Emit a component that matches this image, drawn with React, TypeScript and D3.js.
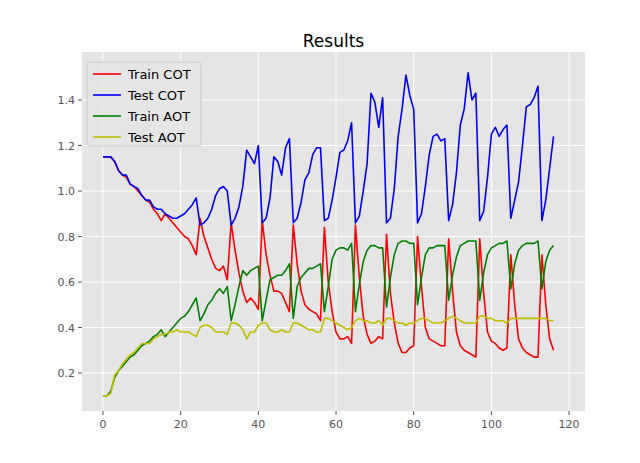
import * as d3 from 'd3';

// values per epoch (0..116)
const trainCot = [
  1.15, 1.15, 1.15, 1.13, 1.09, 1.07, 1.06, 1.03, 1.02, 1.0, 0.98, 0.96, 0.95, 0.92, 0.9, 0.87, 0.9, 0.88, 0.86, 0.84, 0.82, 0.8, 0.79, 0.76, 0.72,
  0.88, 0.8, 0.75, 0.7, 0.66, 0.65, 0.67, 0.61,
  0.86, 0.74, 0.64, 0.56, 0.51, 0.53, 0.51, 0.48,
  0.87, 0.72, 0.63, 0.56, 0.56, 0.55, 0.51, 0.47,
  0.85, 0.68, 0.56, 0.5, 0.48, 0.47, 0.46, 0.43,
  0.84, 0.6, 0.47, 0.38, 0.35, 0.35, 0.36, 0.33,
  0.85, 0.62, 0.45, 0.37, 0.33, 0.34, 0.36, 0.35,
  0.81, 0.55, 0.42, 0.33, 0.29, 0.29, 0.31, 0.32,
  0.8, 0.58, 0.4, 0.35, 0.34, 0.33, 0.32, 0.32,
  0.79, 0.56, 0.38, 0.32, 0.3, 0.29, 0.28, 0.27,
  0.79, 0.55, 0.38, 0.34, 0.33, 0.31, 0.3, 0.31,
  0.72, 0.5, 0.35, 0.31, 0.29, 0.28, 0.27, 0.27,
  0.72, 0.5, 0.35, 0.3,
];
const testCot = [
  1.15, 1.15, 1.15, 1.13, 1.09, 1.07, 1.07, 1.03, 1.02, 1.01, 0.98, 0.96, 0.96, 0.93, 0.92, 0.92, 0.9, 0.89, 0.88, 0.88, 0.89, 0.9, 0.92, 0.94, 0.97,
  0.85, 0.86, 0.88, 0.92, 0.98, 1.01, 1.02, 1.0,
  0.85, 0.88, 0.93, 1.02, 1.18, 1.15, 1.12, 1.2,
  0.86, 0.88, 0.97, 1.15, 1.13, 1.07, 1.19, 1.23,
  0.86, 0.88, 0.95, 1.05, 1.08, 1.16, 1.19, 1.19,
  0.87, 0.88, 0.96, 1.06, 1.17, 1.18, 1.22, 1.3,
  0.86, 0.89, 1.0, 1.12, 1.43, 1.39, 1.28, 1.41,
  0.86, 0.88, 1.01, 1.24, 1.36, 1.51, 1.42, 1.36,
  0.86, 0.9, 1.02, 1.16, 1.24, 1.25, 1.22, 1.23,
  0.87, 0.94, 1.08, 1.29, 1.36, 1.52, 1.4, 1.43,
  0.87, 0.91, 1.06, 1.25, 1.28, 1.24, 1.27, 1.29,
  0.88, 0.96, 1.04, 1.2, 1.37, 1.38, 1.41, 1.46,
  0.87, 0.96, 1.1, 1.24,
];
const trainAot = [
  0.1, 0.1, 0.12, 0.18, 0.21, 0.23, 0.25, 0.27, 0.28, 0.3, 0.32, 0.33, 0.34, 0.36, 0.37, 0.39, 0.36, 0.38, 0.4, 0.42, 0.44, 0.45, 0.47, 0.5, 0.53,
  0.43, 0.46, 0.5, 0.52, 0.55, 0.57, 0.55, 0.58,
  0.43, 0.5, 0.58, 0.65, 0.63, 0.65, 0.66, 0.67,
  0.43, 0.52, 0.61, 0.62, 0.63, 0.63, 0.65, 0.68,
  0.44, 0.58, 0.62, 0.64, 0.66, 0.66, 0.67, 0.68,
  0.47, 0.58, 0.7, 0.74, 0.75, 0.75, 0.74, 0.77,
  0.47, 0.59, 0.69, 0.74, 0.76, 0.76, 0.75, 0.75,
  0.49, 0.62, 0.72, 0.77, 0.78, 0.78, 0.77, 0.77,
  0.5, 0.62, 0.72, 0.75, 0.75, 0.76, 0.76, 0.76,
  0.52, 0.63, 0.71, 0.76, 0.77, 0.78, 0.78, 0.78,
  0.52, 0.64, 0.72, 0.75, 0.76, 0.77, 0.77, 0.78,
  0.57, 0.68, 0.74, 0.76, 0.77, 0.77, 0.77, 0.78,
  0.57, 0.69, 0.74, 0.76,
];
const testAot = [
  0.1, 0.1, 0.11, 0.19, 0.21, 0.24, 0.26, 0.28, 0.29, 0.31, 0.33, 0.33, 0.33, 0.35, 0.36, 0.37, 0.37, 0.38, 0.38, 0.39, 0.38, 0.38, 0.38, 0.37, 0.36,
  0.4, 0.41, 0.41, 0.4, 0.38, 0.38, 0.38, 0.37,
  0.42, 0.42, 0.41, 0.39, 0.35, 0.38, 0.38, 0.41,
  0.42, 0.42, 0.39, 0.38, 0.38, 0.39, 0.38, 0.38,
  0.42, 0.42, 0.41, 0.4, 0.39, 0.39, 0.38, 0.38,
  0.44, 0.44, 0.43, 0.42, 0.41, 0.4, 0.39, 0.4,
  0.43, 0.44, 0.43, 0.43, 0.42, 0.42, 0.43, 0.41,
  0.44, 0.44, 0.43, 0.42, 0.42, 0.41, 0.42, 0.42,
  0.43, 0.44, 0.44, 0.43, 0.42, 0.42, 0.42, 0.43,
  0.44, 0.45, 0.44, 0.43, 0.42, 0.42, 0.42, 0.42,
  0.45, 0.45, 0.44, 0.44, 0.43, 0.43, 0.43, 0.42,
  0.44, 0.44, 0.44, 0.44, 0.44, 0.44, 0.44, 0.44,
  0.44, 0.44, 0.43, 0.43,
];

const series = [
  { name: 'Train COT', color: '#ff0000', values: trainCot },
  { name: 'Test COT', color: '#0000ff', values: testCot },
  { name: 'Train AOT', color: '#008000', values: trainAot },
  { name: 'Test AOT', color: '#bfbf00', values: testAot },
];
const xTicks = [0, 20, 40, 60, 80, 100, 120];
const yTicks = [0.2, 0.4, 0.6, 0.8, 1.0, 1.2, 1.4];

export default function App() {
  const left = 82, right = 585, top = 52, bottom = 411;
  const x = d3.scaleLinear().domain([-5.4, 124.1]).range([left, right]);
  const y = d3.scaleLinear().domain([0.033, 1.611]).range([bottom, top]);
  const line = d3.line<number>().x((_, i) => x(i)).y(d => y(d));
  const font = 'DejaVu Sans, sans-serif';

  return (
    <svg width={640} height={463} style={{ position: 'absolute', left: 0, top: 0, fontFamily: font }}>
      <rect width={640} height={463} fill="#fff" />
      <rect x={left} y={top} width={right - left} height={bottom - top} fill="#e5e5e5" />
      {xTicks.map(t => (
        <g key={'x' + t}>
          <line x1={x(t)} x2={x(t)} y1={top} y2={bottom} stroke="#fff" strokeWidth={1} />
          <line x1={x(t)} x2={x(t)} y1={bottom} y2={bottom + 4} stroke="#555" />
          <text x={x(t)} y={bottom + 17} fontSize={11} fill="#555" textAnchor="middle">{t}</text>
        </g>
      ))}
      {yTicks.map(t => (
        <g key={'y' + t}>
          <line x1={left} x2={right} y1={y(t)} y2={y(t)} stroke="#fff" strokeWidth={1} />
          <line x1={left - 4} x2={left} y1={y(t)} y2={y(t)} stroke="#555" />
          <text x={left - 7} y={y(t) + 4} fontSize={11} fill="#555" textAnchor="end">{t.toFixed(1)}</text>
        </g>
      ))}
      {series.map(s => (
        <path key={s.name} d={line(s.values) ?? ''} fill="none" stroke={s.color} strokeWidth={1.6} strokeLinejoin="round" />
      ))}
      <text x={(left + right) / 2} y={47} fontSize={17} textAnchor="middle" fill="#000">Results</text>
      <rect x={87} y={62} width={114} height={84} rx={3} fill="#e5e5e5" fillOpacity={0.8} stroke="#ccc" />
      {series.map((s, i) => (
        <g key={'l' + s.name}>
          <line x1={93} x2={121} y1={74 + i * 21} y2={74 + i * 21} stroke={s.color} strokeWidth={1.6} />
          <text x={128} y={78.5 + i * 21} fontSize={13} fill="#000">{s.name}</text>
        </g>
      ))}
    </svg>
  );
}
